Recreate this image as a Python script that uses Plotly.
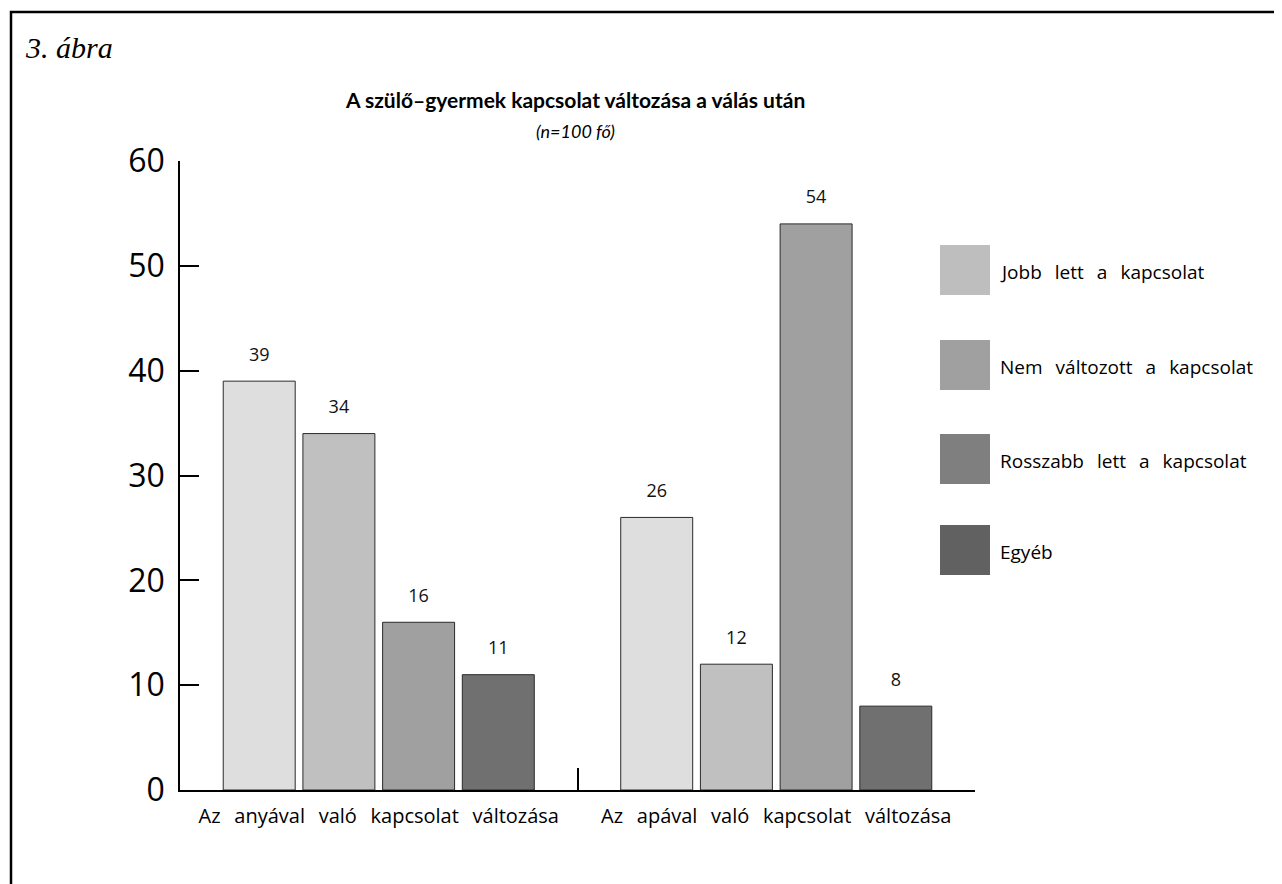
import plotly.graph_objects as go

categories = ["Az anyával való kapcsolat változása", "Az apával való kapcsolat változása"]
series_names = ["Jobb lett a kapcsolat", "Nem változott a kapcsolat",
                "Rosszabb lett a kapcsolat", "Egyéb"]
jobb = [39, 26]
nem = [34, 12]
rossz = [16, 54]
egyeb = [11, 8]
series_values = [jobb, nem, rossz, egyeb]
y_ticks = [0, 10, 20, 30, 40, 50, 60]

bar_colors = ["#dedede", "#c0c0c0", "#a0a0a0", "#707070"]
legend_colors = ["#bebebe", "#a0a0a0", "#7f7f7f", "#616161"]

OFF = 8  # page body margin
W, H = 1282 - OFF, 884 - OFF
ML, MT = 180 - OFF, 161 - OFF
MR = W - (975 - OFF)
MB = H - (790 - OFF)
PW, PH = W - ML - MR, H - MT - MB
GAP = 0.198


def px(x):
    return (x - OFF - ML) / PW


def py(y):
    return (H - MB - (y - OFF)) / PH


def spaced(s):
    return s.replace(" ", "\u00a0\u2009 ")


cats = [spaced(c) for c in categories]

fig = go.Figure()
for i, (name, vals, col) in enumerate(zip(series_names, series_values, bar_colors)):
    fig.add_trace(go.Bar(
        x=cats, y=vals, name=name, offsetgroup=str(i),
        marker=dict(color=col, line=dict(color="#2a2a2a", width=1)),
        showlegend=False,
    ))
for i, vals in enumerate(series_values):
    fig.add_trace(go.Scatter(
        x=cats, y=vals, mode="markers+text", text=[str(v) for v in vals],
        textposition="top center", offsetgroup=str(i),
        marker=dict(size=24, color="rgba(0,0,0,0)"),
        textfont=dict(family="Open Sans", size=18, color="#111111"),
        cliponaxis=False, showlegend=False, hoverinfo="skip",
    ))

shapes = [dict(type="rect", xref="paper", yref="paper",
               x0=px(11), x1=px(1300), y0=py(12), y1=py(905),
               line=dict(color="black", width=2.5), fillcolor="rgba(0,0,0,0)")]
annotations = [
    dict(text="<i>3. ábra</i>", x=px(23), y=py(47), xref="paper", yref="paper",
         xanchor="left", yanchor="middle", showarrow=False,
         font=dict(family="Liberation Serif", size=30, color="black")),
    dict(text="<b>A szülő–gyermek kapcsolat változása a válás után</b>",
         x=px(575), y=py(100), xref="paper", yref="paper",
         xanchor="center", yanchor="middle", showarrow=False,
         font=dict(family="Lato", size=21, color="black")),
    dict(text="<i>(n=100 fő)</i>", x=px(575), y=py(131), xref="paper", yref="paper",
         xanchor="center", yanchor="middle", showarrow=False,
         font=dict(family="Lato", size=18, color="black")),
]

sw_tops = [245, 340, 434, 525]
for name, col, top in zip(series_names, legend_colors, sw_tops):
    shapes.append(dict(type="rect", xref="paper", yref="paper",
                       x0=px(940), x1=px(990), y0=py(top + 50), y1=py(top),
                       line=dict(width=0), fillcolor=col))
    annotations.append(dict(text=spaced(name), x=px(998), y=py(top + 27),
                            xref="paper", yref="paper", xanchor="left",
                            yanchor="middle", showarrow=False,
                            font=dict(family="Open Sans", size=19, color="black")))

fig.update_layout(
    width=W, height=H,
    margin=dict(l=ML, r=MR, t=MT, b=MB, pad=0),
    paper_bgcolor="white", plot_bgcolor="white",
    barmode="group", bargap=GAP, bargroupgap=0.097,
    scattermode="group", scattergap=GAP,
    shapes=shapes, annotations=annotations,
    font=dict(family="Open Sans", color="black"),
)
fig.update_yaxes(range=[0, 60], tickvals=y_ticks, showgrid=False, zeroline=False,
                 showline=True, linecolor="black", linewidth=1.5,
                 ticks="inside", ticklen=19, tickwidth=1.5, tickcolor="black",
                 tickfont=dict(family="Open Sans", size=32, color="black"),
                 ticklabelstandoff=7)
fig.update_xaxes(showgrid=False, zeroline=False, showline=True, linecolor="black",
                 linewidth=1.5, ticks="inside", tickson="boundaries", ticklen=22,
                 tickwidth=1.5, tickcolor="black",
                 tickfont=dict(family="Open Sans", size=20, color="black"),
                 ticklabelstandoff=7)

fig.write_html("out.html")
